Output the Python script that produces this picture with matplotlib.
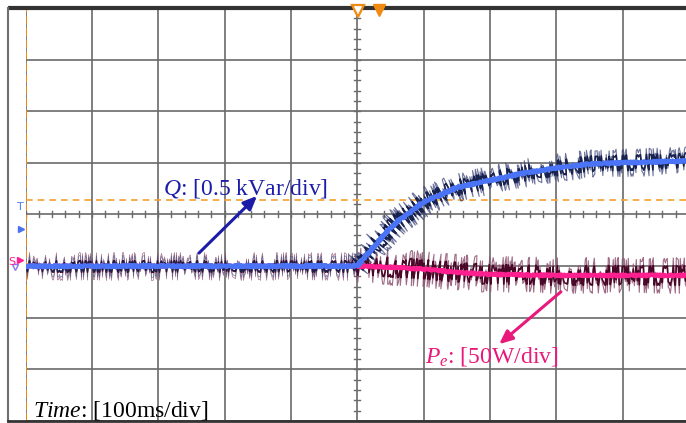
import numpy as np
import matplotlib
matplotlib.use("Agg")
import matplotlib.pyplot as plt

# ---------------- data ----------------
q_time_ms = [0, 500, 520, 540, 560, 580, 600, 650, 700, 750, 800, 850, 900, 1000]
q_kvar = [0.0, 0.0, 0.15, 0.30, 0.43, 0.52, 0.62, 0.76, 0.83, 0.90, 0.95, 0.99, 1.0, 1.02]
pe_time_ms = [0, 500, 550, 600, 650, 700, 800, 1000]
pe_w = [0, 0, -1, -3, -6, -8, -9, -9]

q_per_div = 0.5      # kVar/div
pe_per_div = 50.0    # W/div
time_per_div = 100   # ms/div
q_offset_div = -1.0
pe_offset_div = -1.0
trigger_time_ms = 500
trigger_level_div = 0.28

q_label = r"$\mathit{Q}$: [0.5 kVar/div]"
pe_label = r"$\mathit{P_e}$: [50W/div]"
time_label = r"$\mathit{Time}$: [100ms/div]"

# ---------------- styling ----------------
plt.rcParams['font.family'] = ['Liberation Serif', 'DejaVu Serif']
plt.rcParams['mathtext.fontset'] = 'custom'
plt.rcParams['mathtext.rm'] = 'Liberation Serif'
plt.rcParams['mathtext.it'] = 'Liberation Serif:italic'

W, H = 686, 423
fig = plt.figure(figsize=(W / 100, H / 100), dpi=100)
fig.patch.set_facecolor('white')

x0, x1 = 25.5, 689.0
y0, y1 = 8.0, 421.0
ax = fig.add_axes([x0 / W, (H - y1) / H, (x1 - x0) / W, (y1 - y0) / H])
ax.set_xlim(0, 10 * time_per_div)
ax.set_ylim(-4, 4)
ax.axis('off')

grid_c = '#6a6a6a'
for k in range(0, 11):
    ax.axvline(k * time_per_div, color=grid_c, lw=1.2, zorder=1)
for k in range(-4, 5):
    ax.axhline(k, color=grid_c, lw=1.2, zorder=1)

# center graticule ticks
px_per_ms = (x1 - x0) / (10 * time_per_div)
px_per_div = (y1 - y0) / 8
tx = 3.0 / px_per_ms
ty = 3.0 / px_per_div
for v in np.arange(-4, 4.001, 0.2):
    ax.plot([trigger_time_ms - tx, trigger_time_ms + tx], [v, v], color=grid_c, lw=1.0, zorder=1)
for tt in np.arange(0, 1000.1, time_per_div / 5):
    ax.plot([tt, tt], [-ty, ty], color=grid_c, lw=1.0, zorder=1)

# trigger level (orange dashed)
ax.axhline(trigger_level_div, color='#f5a030', lw=1.2, ls=(0, (4, 3)), zorder=2)
ax.axvline(0, color='#f08a10', lw=1.4, ls=(0, (4, 2)), zorder=2)

# traces
qt = np.array(q_time_ms, float)
qd = np.array(q_kvar) / q_per_div + q_offset_div
pt = np.array(pe_time_ms, float)
pd = np.array(pe_w) / pe_per_div + pe_offset_div


def noisy(t, y, color, lw, alpha, scale, z):
    l, = ax.plot(t, y, color=color, lw=lw, alpha=alpha, zorder=z)
    l.set_sketch_params(scale=scale, length=0.35, randomness=16)


qpre, ppre = qt <= trigger_time_ms, pt <= trigger_time_ms
qpost, ppost = qt >= trigger_time_ms, pt >= trigger_time_ms

# noise (sketch style on the measured traces): before trigger -- lighter
noisy(pt[ppre], pd[ppre], '#8e5272', 0.6, 0.7, 14, 3)
noisy(qt[qpre], qd[qpre], '#3c4478', 0.6, 0.6, 11, 3)
noisy(pt[ppre], pd[ppre], '#4a0828', 1.0, 1.0, 6, 4)
noisy(qt[qpre], qd[qpre], '#18224e', 1.0, 1.0, 5, 4)
# after trigger -- heavier
noisy(pt[ppost], pd[ppost], '#8e5272', 0.8, 0.85, 18, 3)
noisy(qt[qpost], qd[qpost], '#3c4478', 0.8, 0.75, 14, 3)
noisy(pt[ppost], pd[ppost], '#4a0828', 1.2, 1.0, 10, 4)
noisy(qt[qpost], qd[qpost], '#18224e', 1.2, 1.0, 8, 4)

# mean traces
l, = ax.plot(pt, pd, color='#ff1f8e', lw=3.0, zorder=5, solid_capstyle='butt')
l.set_sketch_params(scale=1.0, length=3, randomness=2)
l, = ax.plot(qt, qd, color='#4a74f5', lw=3.2, zorder=6, solid_capstyle='butt')
l.set_sketch_params(scale=1.0, length=3, randomness=2)

# ---------------- overlay in pixel coords ----------------
ov = fig.add_axes([0, 0, 1, 1], zorder=10)
ov.set_xlim(0, W)
ov.set_ylim(H, 0)
ov.axis('off')
ov.patch.set_alpha(0)

ov.plot([8, W], [8, 8], color='#333333', lw=3, solid_capstyle='butt')
ov.plot([8, 8], [8, 421], color='#6f6f6f', lw=1.5)
ov.plot([8, W], [421.5, 421.5], color='#333333', lw=2)

# top markers
ov.plot(358, 11, marker='v', mfc='white', mec='#f08a10', ms=8, mew=1.6)
ov.plot(379, 10, marker='v', color='#f08a10', ms=8)

# left channel markers
ov.text(20, 207, 'T', color='#5577ee', fontsize=8, ha='center', va='center', family='DejaVu Sans')
ov.plot(21, 229, marker='>', color='#4a72f0', ms=5)
ov.text(12, 262, 'S', color='#ff1f8e', fontsize=8, ha='center', va='center', family='DejaVu Sans')
ov.plot(20, 260, marker='>', color='#ff1f8e', ms=5)
ov.plot(15, 267, marker='v', mfc='none', mec='#8877ee', ms=5, mew=1)

# labels and arrows
ov.text(163, 194, q_label, color='#1c1ca8', fontsize=17, ha='left', va='baseline')
ov.annotate('', xy=(259, 194), xytext=(197, 255),
            arrowprops=dict(arrowstyle='-|>,head_length=0.8,head_width=0.35', color='#1c1ca8', lw=2.2))
ov.text(425, 362, pe_label, color='#e8197a', fontsize=17, ha='left', va='baseline')
ov.annotate('', xy=(497, 346), xytext=(563, 290),
            arrowprops=dict(arrowstyle='-|>,head_length=0.8,head_width=0.35', color='#e8197a', lw=2.2))
ov.text(33, 416, time_label, color='black', fontsize=17, ha='left', va='baseline')

fig.savefig('out.png', dpi=100)
